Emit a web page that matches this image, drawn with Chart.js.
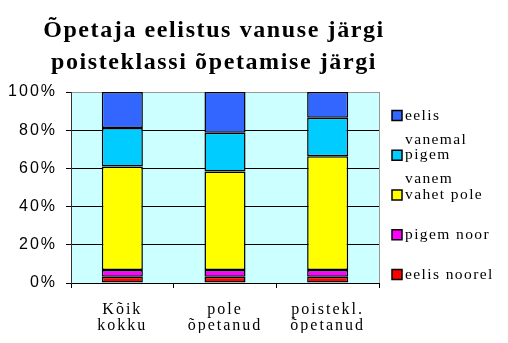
<!DOCTYPE html>
<html>
<head>
<meta charset="utf-8">
<script src="https://cdn.jsdelivr.net/npm/chart.js@4/dist/chart.umd.min.js"></script>
<style>
	body { margin: 0; background: #fff; }
	canvas { display: block; }
</style>
</head>
<body>
<canvas id="chart" width="508" height="343"></canvas>
<script>
const titleLines = ['Õpetaja eelistus vanuse järgi', 'poisteklassi õpetamise järgi']
const categories = [['Kõik', 'kokku'], ['pole', 'õpetanud'], ['poistekl.', 'õpetanud']]

// series from the bottom of the stack upwards
const eelisNoorel = [3.3, 3.3, 3.3]
const pigemNoor = [3.5, 3.5, 3.5]
const vahetPole = [54.2, 51.6, 59.6]
const pigemVanem = [20.1, 20.3, 20.1]
const eelisVanemal = [18.9, 21.3, 13.5]

const yTicks = [0, 20, 40, 60, 80, 100]

const serif = "'Liberation Serif', 'Times New Roman', serif"
const sans = "'Liberation Sans', Arial, sans-serif"

const datasets = [
	{ label: ['eelis noorel'], data: eelisNoorel, backgroundColor: '#ff0000' },
	{ label: ['pigem noor'], data: pigemNoor, backgroundColor: '#ff00ff' },
	{ label: ['vahet pole'], data: vahetPole, backgroundColor: '#ffff00' },
	{ label: ['pigem', 'vanem'], data: pigemVanem, backgroundColor: '#00ccff' },
	{ label: ['eelis', 'vanemal'], data: eelisVanemal, backgroundColor: '#3366ff' },
].map(d => ({
	...d,
	borderColor: '#000',
	borderWidth: 1.5,
	borderSkipped: false,
	categoryPercentage: 1,
	barPercentage: 0.4,
}))

//plot background, outer frame, title and legend
const decor = {
	id: 'decor',
	beforeUpdate: chart => {
		chart.ctx.letterSpacing = '2px'
	},
	beforeDraw: chart => {
		const { ctx, chartArea: a } = chart
		ctx.save()
		ctx.fillStyle = '#ccffff'
		ctx.fillRect(a.left, a.top, a.right - a.left, a.bottom - a.top)
		ctx.restore()
		ctx.letterSpacing = '2px'
	},
	beforeDatasetsDraw: chart => {
		const { ctx, chartArea: a } = chart
		ctx.save()
		ctx.strokeStyle = '#999'
		ctx.lineWidth = 1
		ctx.beginPath()
		ctx.moveTo(a.right + 0.5, a.top)
		ctx.lineTo(a.right + 0.5, a.bottom)
		ctx.stroke()
		ctx.restore()
	},
	afterDraw: chart => {
		const ctx = chart.ctx
		ctx.save()

		//title
		ctx.fillStyle = '#000'
		ctx.textAlign = 'center'
		ctx.textBaseline = 'middle'
		ctx.font = `bold 24px ${serif}`
		ctx.letterSpacing = '1.6px'
		titleLines.forEach((t, i) => ctx.fillText(t, 214, 31 + i * 32))

		//legend, top item is the top of the stack
		ctx.font = `15.5px ${serif}`
		ctx.letterSpacing = '1.4px'
		ctx.textAlign = 'left'
		const items = chart.data.datasets.slice().reverse()
		items.forEach((ds, i) => {
			const y = 115.5 + i * 39.75
			ctx.fillStyle = ds.backgroundColor
			ctx.fillRect(392, y - 5, 10, 10)
			ctx.strokeStyle = '#000'
			ctx.lineWidth = 1.5
			ctx.strokeRect(392, y - 5, 10, 10)
			ctx.fillStyle = '#000'
			ds.label.forEach((line, j) => ctx.fillText(line, 405, y + j * 24))
		})
		ctx.restore()
	},
}

new Chart(document.querySelector('#chart'), {
	type: 'bar',
	data: {
		labels: categories,
		datasets: datasets,
	},
	options: {
		responsive: false,
		animation: false,
		layout: {
			padding: { top: 92, right: 129, bottom: 10, left: 0 },
		},
		plugins: {
			legend: { display: false },
			title: { display: false },
			tooltip: { enabled: false },
		},
		scales: {
			x: {
				stacked: true,
				afterFit: scale => {
					scale.height = 50
				},
				grid: {
					offset: true,
					drawOnChartArea: false,
					drawTicks: true,
					tickLength: 5,
					color: '#000',
				},
				border: { color: '#000', width: 1 },
				ticks: {
					color: '#000',
					padding: 14,
					font: { family: serif, size: 16, lineHeight: 1.0 },
				},
			},
			y: {
				stacked: true,
				min: 0,
				max: 100,
				afterFit: scale => {
					scale.width = 71
				},
				afterBuildTicks: scale => {
					scale.ticks = yTicks.map(v => ({ value: v }))
				},
				grid: {
					color: ctx => (ctx.tick && ctx.tick.value === 100 ? '#999' : '#000'),
					tickLength: 5,
					tickColor: '#000',
				},
				border: { color: '#333', width: 1 },
				ticks: {
					color: '#000',
					padding: 9,
					font: { family: sans, size: 16 },
					callback: v => v + '%',
				},
			},
		},
	},
	plugins: [decor],
})
</script>
</body>
</html>
